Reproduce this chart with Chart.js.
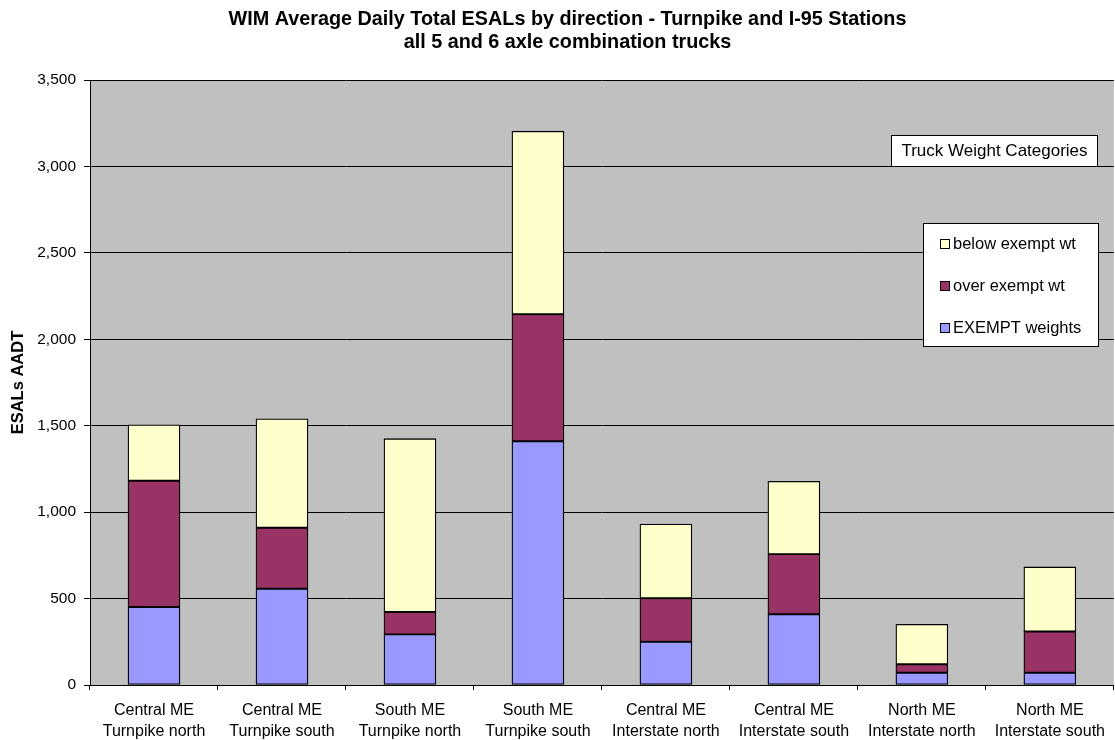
<!DOCTYPE html>
<html>
<head>
<meta charset="utf-8">
<script src="https://cdn.jsdelivr.net/npm/chart.js@4"></script>
<style>
html,body{margin:0;padding:0;background:#fff;}
#wrap{width:1115px;height:740px;position:relative;}
</style>
</head>
<body>
<div id="wrap"><canvas id="c" width="1115" height="740"></canvas></div>
<script>
const categories = [
  ["Central ME","Turnpike north"],
  ["Central ME","Turnpike south"],
  ["South ME","Turnpike north"],
  ["South ME","Turnpike south"],
  ["Central ME","Interstate north"],
  ["Central ME","Interstate south"],
  ["North ME","Interstate north"],
  ["North ME","Interstate south"]
];
const exemptWeights = [451, 557, 293, 1410, 250, 409, 71, 71];
const overExemptWt  = [731, 353, 129, 735, 252, 348, 49, 238];
const belowExemptWt = [323, 630, 1003, 1059, 429, 421, 231, 374];
const yTicks = [0, 500, 1000, 1500, 2000, 2500, 3000, 3500];
const titleLines = ["WIM Average Daily Total ESALs by direction - Turnpike and I-95 Stations", "all 5 and 6 axle combination trucks"];
const yTitle = "ESALs AADT";
const legendHeader = "Truck Weight Categories";

const FONT = "'Liberation Sans', Arial, sans-serif";

const bgPlugin = {
  id: 'plotBg',
  beforeDraw(chart) {
    const {ctx, chartArea: a} = chart;
    ctx.save();
    ctx.fillStyle = '#C0C0C0';
    ctx.fillRect(a.left, a.top, a.right - a.left, a.bottom - a.top);
    ctx.restore();
  }
};

const legendPlugin = {
  id: 'customLegend',
  afterDraw(chart) {
    const ctx = chart.ctx;
    ctx.save();
    // header box
    ctx.fillStyle = '#fff';
    ctx.strokeStyle = '#000';
    ctx.lineWidth = 1;
    ctx.fillRect(891.5, 135.5, 206, 31);
    ctx.strokeRect(891.5, 135.5, 206, 31);
    ctx.fillStyle = '#000';
    ctx.font = '17px ' + FONT;
    ctx.textAlign = 'center';
    ctx.textBaseline = 'middle';
    ctx.fillText(legendHeader, 994.5, 151.5);
    // items box
    ctx.fillStyle = '#fff';
    ctx.fillRect(923.5, 223.5, 175, 123);
    ctx.strokeRect(923.5, 223.5, 175, 123);
    const ds = chart.data.datasets.slice().reverse();
    const ys = [244, 286, 328];
    ctx.font = '16.5px ' + FONT;
    ctx.textAlign = 'left';
    ds.forEach((d, i) => {
      const y = ys[i];
      ctx.fillStyle = d.backgroundColor;
      ctx.fillRect(940.5, y - 4.5, 9, 9);
      ctx.strokeStyle = '#000';
      ctx.strokeRect(940.5, y - 4.5, 9, 9);
      ctx.fillStyle = '#000';
      ctx.fillText(d.label, 953, y + 0.5);
    });
    ctx.restore();
  }
};

new Chart(document.getElementById('c'), {
  type: 'bar',
  data: {
    labels: categories,
    datasets: [
      {label: 'EXEMPT weights', data: exemptWeights, backgroundColor: '#9999FF'},
      {label: 'over exempt wt', data: overExemptWt, backgroundColor: '#993366'},
      {label: 'below exempt wt', data: belowExemptWt, backgroundColor: '#FFFFCC'}
    ].map(d => Object.assign(d, {borderColor: '#000', borderWidth: 1.3, borderSkipped: false, barThickness: 52}))
  },
  options: {
    responsive: false,
    animation: false,
    devicePixelRatio: 1,
    layout: {padding: {left: 20, right: 0, top: 0, bottom: 0}},
    plugins: {
      legend: {display: false},
      tooltip: {enabled: false},
      title: {
        display: true,
        text: titleLines,
        color: '#000',
        font: {family: FONT, size: 19.8, weight: 'bold', lineHeight: 1.17},
        padding: {top: 7.5, bottom: 26.2}
      }
    },
    scales: {
      x: {
        stacked: true,
        grid: {drawOnChartArea: false, drawTicks: true, tickLength: 5, color: '#000', offset: true},
        border: {display: true, color: '#000', width: 1},
        ticks: {color: '#000', font: {family: FONT, size: 16, lineHeight: 1.3}, maxRotation: 0, autoSkip: false, padding: 10},
        afterFit(s) { s.height = 55; }
      },
      y: {
        stacked: true,
        min: 0, max: 3500,
        afterBuildTicks(s) { s.ticks = yTicks.map(v => ({value: v})); },
        grid: {color: '#000', lineWidth: 1, drawTicks: true, tickLength: 6},
        border: {display: true, color: '#000', width: 1},
        ticks: {color: '#000', font: {family: FONT, size: 15.5}, padding: 8,
          callback: v => v.toLocaleString('en-US')},
        title: {display: true, text: yTitle, color: '#000', font: {family: FONT, size: 16.5, weight: 'bold'}, padding: {top: -11.9, bottom: 0}},
        afterFit(s) { s.width = 70; }
      }
    }
  },
  plugins: [bgPlugin, legendPlugin]
});
</script>
</body>
</html>
